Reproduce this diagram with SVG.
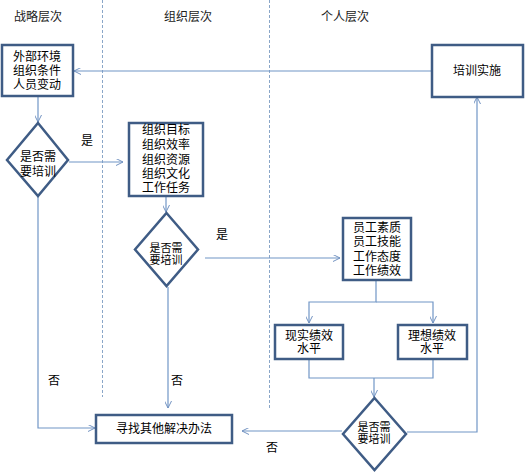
<svg xmlns="http://www.w3.org/2000/svg" width="525" height="473" viewBox="0 0 525 473">
<defs>
<marker id="arr" viewBox="0 0 10 10" refX="10" refY="5" markerWidth="7" markerHeight="7" markerUnits="userSpaceOnUse" orient="auto">
<path d="M0,0 L10,5 L0,10" fill="none" stroke="#6f8fbf" stroke-width="1.4"/>
</marker>
</defs>
<style>
text{font-family:"Liberation Sans","Noto Sans CJK SC",sans-serif;font-size:12px;fill:#000;text-anchor:middle}
.h{fill:#222}
.s{font-size:11px}
.box{fill:#fff;stroke:#3f5c85;stroke-width:2.5}
.c{fill:none;stroke:#7196c6;stroke-width:1.2}
.d{fill:none;stroke:#8aa6c8;stroke-width:1;stroke-dasharray:3,2}
</style>
<rect width="525" height="473" fill="#fff"/>
<g id="lanes">
<line class="d" x1="102.5" y1="0" x2="102.5" y2="397"/>
<line class="d" x1="269.5" y1="0" x2="269.5" y2="408"/>
<text class="h" x="38" y="21">战略层次</text>
<text class="h" x="188" y="21">组织层次</text>
<text class="h" x="345" y="21">个人层次</text>
</g>
<g id="connectors">
<path class="c" d="M432,71 H74" marker-end="url(#arr)"/>
<path class="c" d="M38,97 V122" marker-end="url(#arr)"/>
<path class="c" d="M69,162 H123" marker-end="url(#arr)"/>
<path class="c" d="M166,197 V212" marker-end="url(#arr)"/>
<path class="c" d="M205,258 H340" marker-end="url(#arr)"/>
<path class="c" d="M376,281 V302 H309 V323" marker-end="url(#arr)"/>
<path class="c" d="M376,302 H433 V323" marker-end="url(#arr)"/>
<path class="c" d="M309,360 V378 H433 V360"/>
<path class="c" d="M374,378 V397" marker-end="url(#arr)"/>
<path class="c" d="M407,432 H477 V97" marker-end="url(#arr)"/>
<path class="c" d="M342,431 H242" marker-end="url(#arr)"/>
<path class="c" d="M38,197 V428 H95" marker-end="url(#arr)"/>
<path class="c" d="M168,287 V408" marker-end="url(#arr)"/>
<text x="87" y="145">是</text>
<text x="222" y="239">是</text>
<text x="54" y="385">否</text>
<text x="177" y="385">否</text>
<text x="272" y="452">否</text>
</g>
<g id="n1">
<rect class="box" x="2" y="45" width="71" height="51"/>
<text x="37" y="61">外部环境</text>
<text x="37" y="75">组织条件</text>
<text x="37" y="89">人员变动</text>
</g>
<g id="n2">
<polygon class="box" points="38,123 68,160 38,196 7,160"/>
<text x="38" y="161">是否需</text>
<text x="38" y="176">要培训</text>
</g>
<g id="n3">
<rect class="box" x="129" y="123" width="74" height="73"/>
<text x="166" y="134">组织目标</text>
<text x="166" y="149">组织效率</text>
<text x="166" y="164">组织资源</text>
<text x="166" y="178">组织文化</text>
<text x="166" y="192">工作任务</text>
</g>
<g id="n4">
<polygon class="box" points="166.5,213 198,249.5 166.5,286 135,249.5"/>
<text class="s" x="166" y="252">是否需</text>
<text class="s" x="166" y="264">要培训</text>
</g>
<g id="n5">
<rect class="box" x="343" y="218" width="68" height="62"/>
<text x="377" y="232">员工素质</text>
<text x="377" y="246">员工技能</text>
<text x="377" y="261">工作态度</text>
<text x="377" y="275">工作绩效</text>
</g>
<g id="n6">
<rect class="box" x="275" y="325" width="68" height="34"/>
<text x="309" y="340">现实绩效</text>
<text x="309" y="353">水平</text>
</g>
<g id="n7">
<rect class="box" x="398" y="325" width="69" height="34"/>
<text x="432" y="340">理想绩效</text>
<text x="432" y="353">水平</text>
</g>
<g id="n8">
<polygon class="box" points="374.5,398 406,434 374.5,470 343,434"/>
<text class="s" x="374" y="431">是否需</text>
<text class="s" x="374" y="443">要培训</text>
</g>
<g id="n9">
<rect class="box" x="432" y="45" width="91" height="52"/>
<text x="477" y="75">培训实施</text>
</g>
<g id="n10">
<rect class="box" x="96" y="415" width="136" height="28"/>
<text x="164" y="433">寻找其他解决办法</text>
</g>
</svg>
